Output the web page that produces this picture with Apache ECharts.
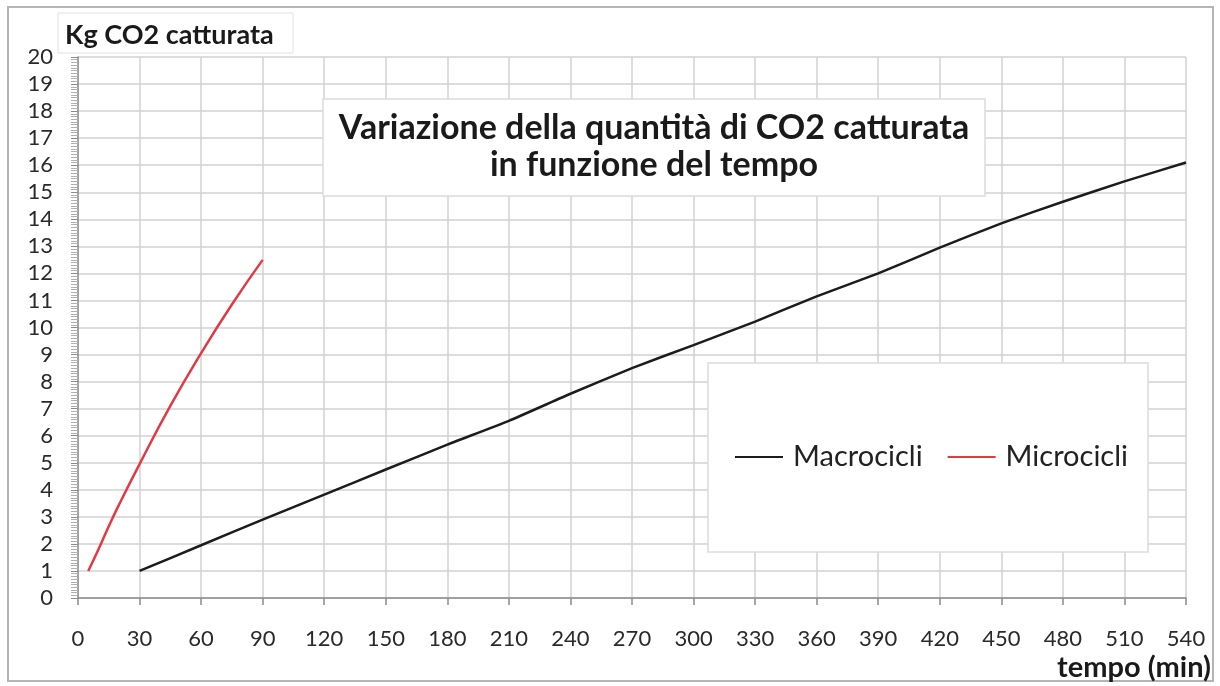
<!DOCTYPE html>
<html>
<head>
<meta charset="utf-8">
<title>CO2 catturata</title>
<script src="https://cdn.jsdelivr.net/npm/echarts@6/dist/echarts.min.js"></script>
<style>
  html, body { margin: 0; padding: 0; background: #fff; }
  #chart { width: 1220px; height: 686px; }
</style>
</head>
<body>
<div id="chart"></div>
<script>
// dati
const macroX = [30, 60, 90, 120, 150, 180, 210, 240, 270, 300, 330, 360, 390, 420, 450, 480, 510, 540];
const macroY = [1.0, 1.95, 2.9, 3.82, 4.75, 5.67, 6.55, 7.55, 8.5, 9.35, 10.22, 11.15, 12.0, 12.95, 13.85, 14.65, 15.4, 16.1];
const microX = [5, 10, 15, 20, 30, 45, 60, 75, 90];
const microY = [1.0, 1.8, 2.65, 3.45, 4.95, 7.1, 9.05, 10.85, 12.5];

const seriesNames = ['Macrocicli', 'Microcicli'];
const titleLines = ['Variazione della quantità di CO2 catturata', 'in funzione del tempo'];
const yName = 'Kg CO2 catturata';
const xName = 'tempo (min)';

const FONT = 'Lato';

function zip(xs, ys) {
    return xs.map((x, i) => [x, ys[i]]);
}

const chart = echarts.init(document.getElementById('chart'));

const option = {
    backgroundColor: '#fff',
    animation: false,
    textStyle: { fontFamily: FONT },
    graphic: [
        // cornice esterna
        { type: 'rect', z: 0, shape: { x: 8, y: 7, width: 1205, height: 674 },
          style: { fill: 'none', stroke: '#b4b4b4', lineWidth: 2 } },
        // box titolo asse y
        { type: 'rect', z: 5, shape: { x: 58, y: 13, width: 235, height: 40 },
          style: { fill: '#fff', stroke: '#e2e2e2', lineWidth: 1 } },
        // box titolo
        { type: 'rect', z: 5, shape: { x: 323, y: 99, width: 662, height: 97 },
          style: { fill: '#fff', stroke: '#dcdcdc', lineWidth: 1.5 } },
        // box legenda
        { type: 'rect', z: 3, shape: { x: 708, y: 363, width: 440, height: 189 },
          style: { fill: '#fff', stroke: '#dcdcdc', lineWidth: 1.5 } }
    ],
    title: [
        {
            text: titleLines.join('\n'),
            left: 654,
            top: 110,
            textAlign: 'center',
            padding: 0,
            z: 6,
            textStyle: { fontFamily: FONT, fontSize: 34, fontWeight: 'bold', color: '#1a1a1a', lineHeight: 37, align: 'center' }
        },
        {
            text: yName,
            left: 65,
            top: 19,
            padding: 0,
            z: 6,
            textStyle: { fontFamily: FONT, fontSize: 27, fontWeight: 'bold', color: '#1a1a1a', lineHeight: 32 }
        },
        {
            text: xName,
            right: 9,
            top: 652,
            padding: 0,
            z: 6,
            textStyle: { fontFamily: FONT, fontSize: 29, fontWeight: 'bold', color: '#1a1a1a', lineHeight: 32 }
        }
    ],
    legend: {
        data: seriesNames,
        left: 735,
        top: 441,
        padding: 0,
        z: 4,
        icon: 'rect',
        itemWidth: 48,
        itemHeight: 2,
        itemGap: 25,
        textStyle: { fontFamily: FONT, fontSize: 29, color: '#222', lineHeight: 32, padding: [0, 0, 0, 5] }
    },
    grid: { left: 78, right: 34, top: 57, bottom: 88 },
    xAxis: {
        type: 'value',
        min: 0,
        max: 540,
        interval: 30,
        axisLine: { lineStyle: { color: '#8c8c8c', width: 1.5 } },
        axisTick: { show: true, length: 7, lineStyle: { color: '#8c8c8c', width: 1.5 } },
        axisLabel: { margin: 30, fontFamily: FONT, fontSize: 22, color: '#2a2a2a' },
        splitLine: { show: true, lineStyle: { color: '#d2d2d2', width: 1.5 } }
    },
    yAxis: {
        type: 'value',
        min: 0,
        max: 20,
        interval: 1,
        axisLine: { show: true, lineStyle: { color: '#8c8c8c', width: 1.5 } },
        axisTick: { show: true, length: 7, lineStyle: { color: '#8c8c8c', width: 1 } },
        minorTick: { show: true, splitNumber: 10, length: 7, lineStyle: { color: '#b0b0b0', width: 1 } },
        axisLabel: { margin: 25, fontFamily: FONT, fontSize: 22, color: '#2a2a2a' },
        splitLine: { show: true, lineStyle: { color: '#d2d2d2', width: 1.5 } }
    },
    series: [
        {
            name: seriesNames[0],
            type: 'line',
            data: zip(macroX, macroY),
            symbol: 'none',
            smooth: 0.15,
            lineStyle: { color: '#1c1c1c', width: 2.5 },
            itemStyle: { color: '#1c1c1c' }
        },
        {
            name: seriesNames[1],
            type: 'line',
            data: zip(microX, microY),
            symbol: 'none',
            smooth: 0.5,
            lineStyle: { color: '#e23a44', width: 2.5 },
            itemStyle: { color: '#e23a44' }
        }
    ]
};

chart.setOption(option);
</script>
</body>
</html>
